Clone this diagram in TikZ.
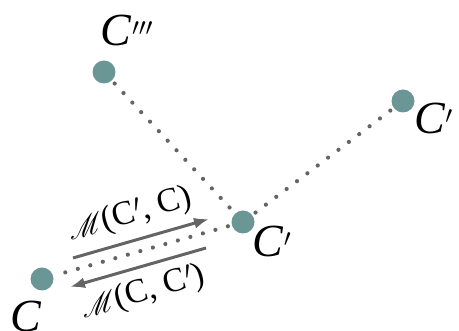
\documentclass[tikz,border=0pt]{standalone}
\usepackage{fontspec}
\setmainfont{Liberation Serif}
\usepackage{mathrsfs}
\usetikzlibrary{arrows.meta}
\definecolor{dotfill}{RGB}{106,150,150}
\definecolor{linkgray}{RGB}{100,100,100}
\tikzset{
  statedot/.style={circle, fill=dotfill, draw=none, minimum size=23pt, inner sep=0pt},
  dotline/.style={linkgray, line width=4.2pt, line cap=round, dash pattern=on 0pt off 13pt, shorten <=4pt},
  maparrow/.style={linkgray, line width=3pt, -{Latex[length=15pt,width=11pt]}},
  statelbl/.style={inner sep=0pt, font=\fontsize{46}{50}\selectfont},
  maplbl/.style={inner sep=0pt, rotate=16, font=\fontsize{34}{38}\selectfont},
}
\newcommand{\mapM}{\scalebox{1.15}{$\mathscr{M}$}}
\begin{document}
\begin{tikzpicture}[x=1pt, y=-1pt]
  \useasboundingbox (0,0) rectangle (459,331);
  \clip (0,0) rectangle (459,331);
  % states
  \node[statedot] (c3) at (104,72) {};
  \node[statedot] (c2) at (403,101) {};
  \node[statedot] (c1) at (243,222) {};
  \node[statedot] (c0) at (42,279) {};
  % dotted links between states
  \draw[dotline] (c3) -- (c1);
  \draw[dotline] (c1) -- (c2);
  \draw[dotline] (c1) -- (c0);
  % state labels
  \node[statelbl] (t3) at (127,30) {\textit{C}$'''$};
  \node[statelbl, anchor=west] (t2) at (414,118) {\textit{C}$'$};
  \node[statelbl] (t1) at (272,241) {\textit{C}$'$};
  \node[statelbl] (t0) at (26,316) {\textit{C}};
  % mapping arrows
  \coordinate (u1) at (73,258);
  \coordinate (u2) at (209,219);
  \coordinate (l1) at (206,248);
  \coordinate (l2) at (70,287);
  \draw[maparrow] (u1) -- (u2);
  \draw[maparrow] (l1) -- (l2);
  \node[maplbl] (m1) at (130,215) {\mapM(C$'$, C)};
  \node[maplbl] (m2) at (143,293) {\mapM(C, C$'$)};
\end{tikzpicture}
\end{document}
